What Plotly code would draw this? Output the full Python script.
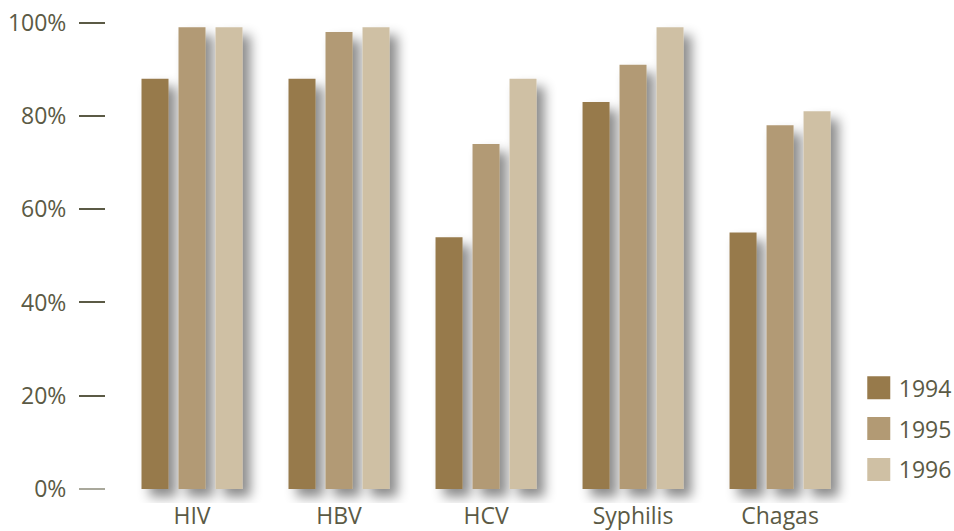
import plotly.graph_objects as go

# ── data ──────────────────────────────────────────────────────────────────────
categories = ["HIV", "HBV", "HCV", "Syphilis", "Chagas"]
years = ["1994", "1995", "1996"]
values_1994 = [88, 88, 54, 83, 55]
values_1995 = [99, 98, 74, 91, 78]
values_1996 = [99, 99, 88, 99, 81]
y_tick_vals = [0, 20, 40, 60, 80, 100]
y_tick_text = ["0%", "20%", "40%", "60%", "80%", "100%"]

series = [values_1994, values_1995, values_1996]
colors = ["#977a4b", "#b29a74", "#cfc0a4"]
TEXT = "#5b5a45"
FONT = "Open Sans, Noto Sans, sans-serif"

fig = go.Figure()
for year, vals, col in zip(years, series, colors):
    fig.add_trace(go.Bar(
        x=categories, y=vals, name=year, legendgroup=year,
        marker=dict(color=col, line=dict(width=0)),
        hoverinfo="skip",
    ))

# overlay axis only for the lighter 0% tick
fig.add_trace(go.Scatter(x=[], y=[], yaxis="y2", showlegend=False, hoverinfo="skip"))

fig.update_layout(
    width=954, height=531,
    margin=dict(l=106, r=14, t=18, b=28, autoexpand=False),
    paper_bgcolor="white", plot_bgcolor="white",
    barmode="group", bargap=0.245, bargroupgap=0.27,
    font=dict(family=FONT, size=23, color=TEXT),
    xaxis=dict(
        range=[-0.585, 5.088], showgrid=False, zeroline=False, showline=False,
        ticks="", tickfont=dict(size=23, color=TEXT), automargin=False,
        ticklabelstandoff=-3,
    ),
    yaxis=dict(
        range=[-3, 101], tickvals=y_tick_vals, ticktext=y_tick_text,
        showgrid=False, zeroline=False, showline=False,
        ticks="outside", ticklen=26, tickwidth=1.5, tickcolor="#5b5a45",
        ticklabelstandoff=8, tickfont=dict(size=23, color=TEXT), automargin=False,
    ),
    yaxis2=dict(
        overlaying="y", side="left", range=[-3, 101], tickvals=[0], ticktext=[""],
        showgrid=False, zeroline=False, showline=False, automargin=False,
        ticks="outside", ticklen=26, tickwidth=1.5, tickcolor="#a9a89b",
    ),
    legend=dict(
        x=0.9026, y=0.282, xanchor="left", yanchor="top",
        font=dict(size=23, color=TEXT), tracegroupgap=8,
        bgcolor="rgba(0,0,0,0)",
    ),
    showlegend=True,
)

# drop shadow behind the bars + bigger legend squares
post = """
var gd = document.getElementById('{plot_id}');
document.body.style.margin = '0';
function decorate() {
  var svg = gd.querySelector('svg.main-svg');
  if (!svg) return;
  var ns = 'http://www.w3.org/2000/svg';
  if (!document.getElementById('bar-shadow')) {
    var defs = svg.querySelector('defs');
    if (!defs) { defs = document.createElementNS(ns, 'defs'); svg.insertBefore(defs, svg.firstChild); }
    var f = document.createElementNS(ns, 'filter');
    f.setAttribute('id', 'bar-shadow');
    f.setAttribute('x', '-10%'); f.setAttribute('y', '-10%');
    f.setAttribute('width', '125%'); f.setAttribute('height', '125%');
    var ds = document.createElementNS(ns, 'feDropShadow');
    ds.setAttribute('dx', '8'); ds.setAttribute('dy', '8');
    ds.setAttribute('stdDeviation', '6');
    ds.setAttribute('flood-color', '#000'); ds.setAttribute('flood-opacity', '0.45');
    f.appendChild(ds); defs.appendChild(f);
  }
  gd.querySelectorAll('.barlayer').forEach(function (g) { g.setAttribute('filter', 'url(#bar-shadow)'); });
  gd.querySelectorAll('.legendpoints path').forEach(function (p) { p.setAttribute('d', 'M11.5,11.5H-11.5V-11.5H11.5Z'); });
}
decorate();
gd.on('plotly_afterplot', decorate);
"""

fig.write_html("out.html", post_script=post, config={"displayModeBar": False})
